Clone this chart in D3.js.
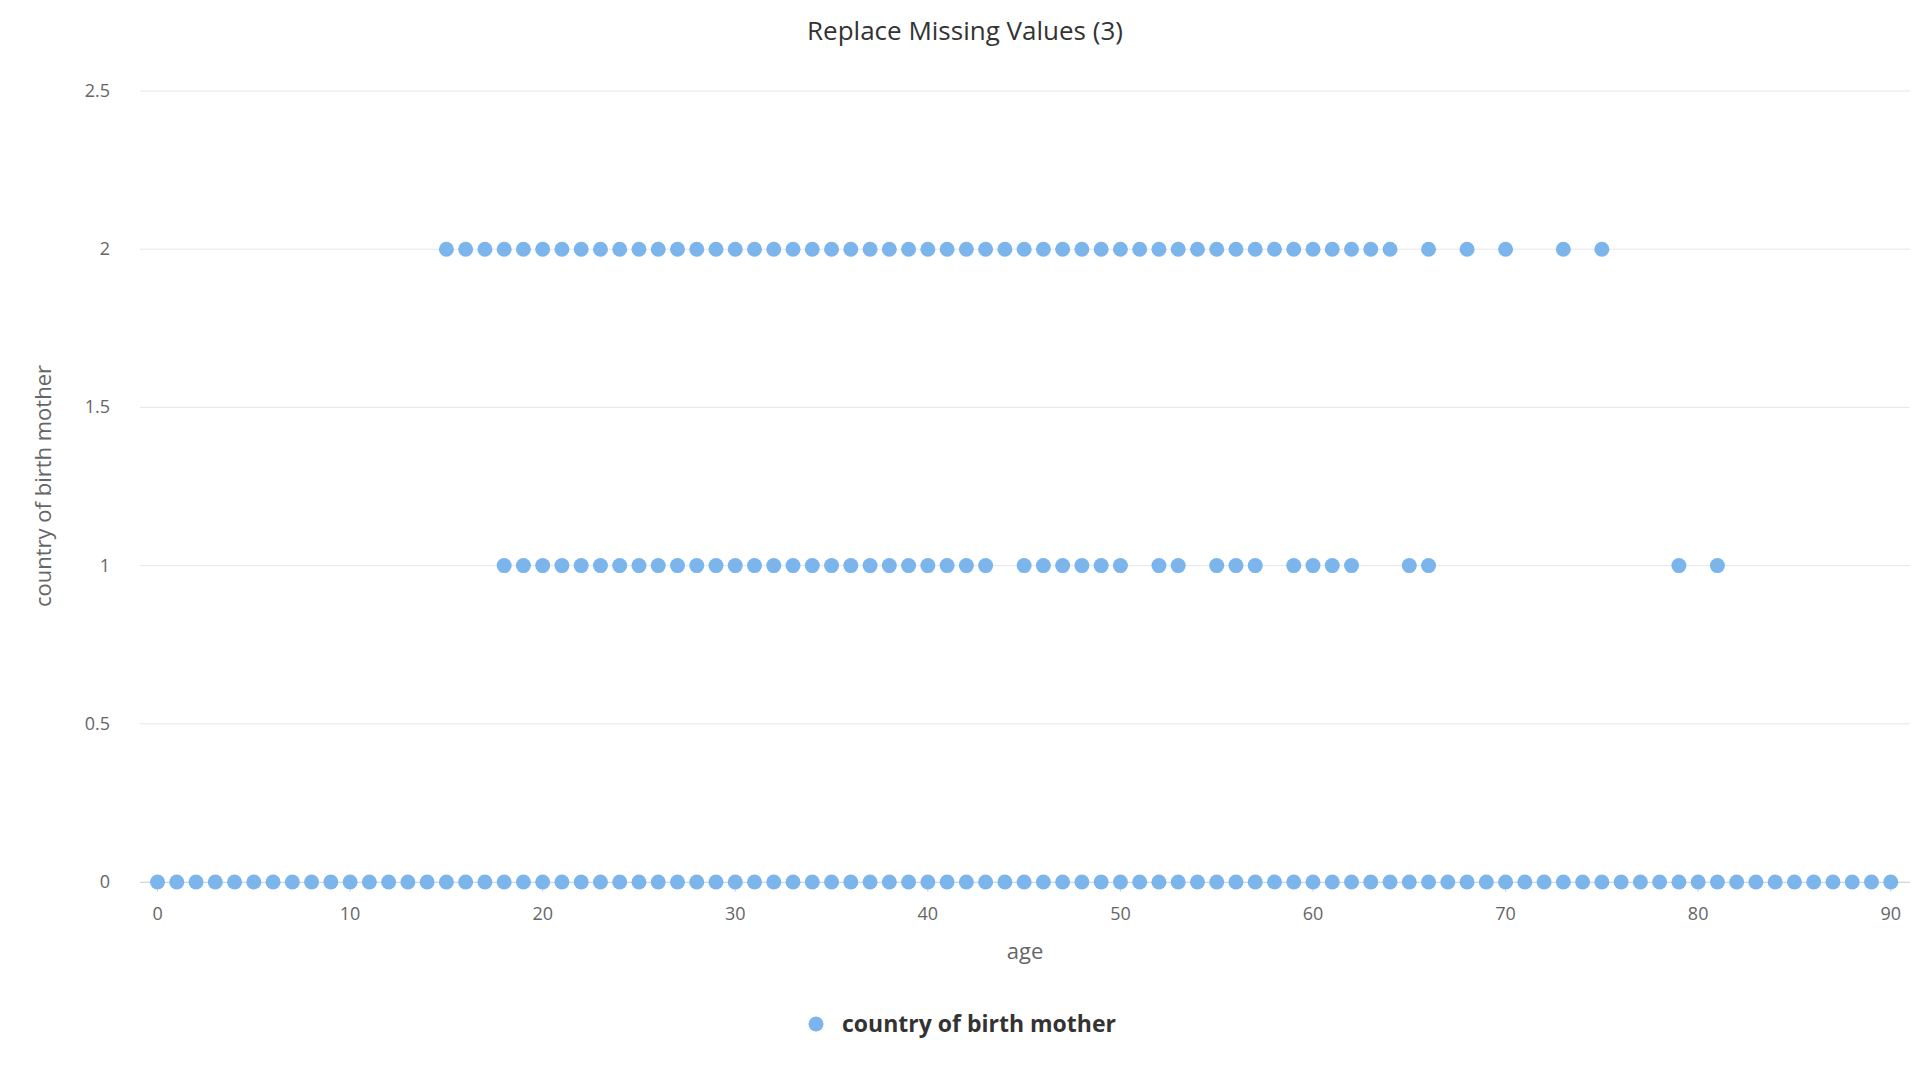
<!DOCTYPE html>
<html>
<head>
  <style>
    body { margin: 0; background: #fff; }
    text { font-family: "Open Sans", "DejaVu Sans", sans-serif; }
  </style>
</head>
<body>
  <script src="https://d3js.org/d3.v7.min.js"></script>
  <svg id="chart" width="1920" height="1080"></svg>
  <script>
    // ages per value of "country of birth mother"
    var ages0 = d3.range(0, 91);
    var ages1 = d3.range(18, 44).concat([45, 46, 47, 48, 49, 50, 52, 53, 55, 56, 57, 59, 60, 61, 62, 65, 66, 79, 81]);
    var ages2 = d3.range(15, 65).concat([66, 68, 70, 73, 75]);
    var yTicks = [0, 0.5, 1, 1.5, 2, 2.5];
    var xTicks = [0, 10, 20, 30, 40, 50, 60, 70, 80, 90];

    var points = [];
    ages0.forEach(function(a) { points.push({ x: a, y: 0 }); });
    ages1.forEach(function(a) { points.push({ x: a, y: 1 }); });
    ages2.forEach(function(a) { points.push({ x: a, y: 2 }); });

    var svg = d3.select('#chart');
    var plotLeft = 140, plotRight = 1910, plotTop = 91, plotBottom = 882;

    var x = d3.scaleLinear().domain([-0.91, 91]).range([plotLeft, plotRight]);
    var y = d3.scaleLinear().domain([0, 2.5]).range([plotBottom, plotTop]);

    // grid lines
    svg.selectAll('.grid')
      .data(yTicks)
      .enter()
      .append('line')
      .attr('x1', plotLeft).attr('x2', plotRight)
      .attr('y1', function(d) { return y(d); })
      .attr('y2', function(d) { return y(d); })
      .attr('stroke', '#e6e6e6')
      .attr('stroke-width', 1);

    // y labels
    svg.selectAll('.ylab')
      .data(yTicks)
      .enter()
      .append('text')
      .attr('x', 110)
      .attr('y', function(d) { return y(d) + 6; })
      .attr('text-anchor', 'end')
      .attr('font-size', 18)
      .attr('fill', '#666')
      .text(function(d) { return d; });

    // x axis line and ticks
    svg.append('line')
      .attr('x1', plotLeft).attr('x2', plotRight)
      .attr('y1', plotBottom + 0.5).attr('y2', plotBottom + 0.5)
      .attr('stroke', '#ccd6eb');
    svg.selectAll('.xtick')
      .data(xTicks)
      .enter()
      .append('line')
      .attr('x1', function(d) { return x(d); })
      .attr('x2', function(d) { return x(d); })
      .attr('y1', plotBottom).attr('y2', plotBottom + 10)
      .attr('stroke', '#ccd6eb');
    svg.selectAll('.xlab')
      .data(xTicks)
      .enter()
      .append('text')
      .attr('x', function(d) { return x(d); })
      .attr('y', 920)
      .attr('text-anchor', 'middle')
      .attr('font-size', 18)
      .attr('fill', '#666')
      .text(function(d) { return d; });

    // points
    svg.selectAll('circle.pt')
      .data(points)
      .enter()
      .append('circle')
      .attr('class', 'pt')
      .attr('cx', function(d) { return x(d.x); })
      .attr('cy', function(d) { return y(d.y); })
      .attr('r', 7.5)
      .attr('fill', '#7cb5ec');

    // titles
    svg.append('text')
      .attr('x', 965).attr('y', 40)
      .attr('text-anchor', 'middle')
      .attr('font-size', 26)
      .attr('fill', '#333')
      .text('Replace Missing Values (3)');
    svg.append('text')
      .attr('x', 1025).attr('y', 959)
      .attr('text-anchor', 'middle')
      .attr('font-size', 22)
      .attr('fill', '#666')
      .text('age');
    svg.append('text')
      .attr('transform', 'translate(51,486) rotate(-90)')
      .attr('text-anchor', 'middle')
      .attr('font-size', 22)
      .attr('fill', '#666')
      .text('country of birth mother');

    // legend
    svg.append('circle')
      .attr('cx', 816).attr('cy', 1024)
      .attr('r', 7.5)
      .attr('fill', '#7cb5ec');
    svg.append('text')
      .attr('x', 842).attr('y', 1032)
      .attr('font-size', 23)
      .attr('font-weight', 'bold')
      .attr('fill', '#333')
      .text('country of birth mother');
  </script>
</body>
</html>
